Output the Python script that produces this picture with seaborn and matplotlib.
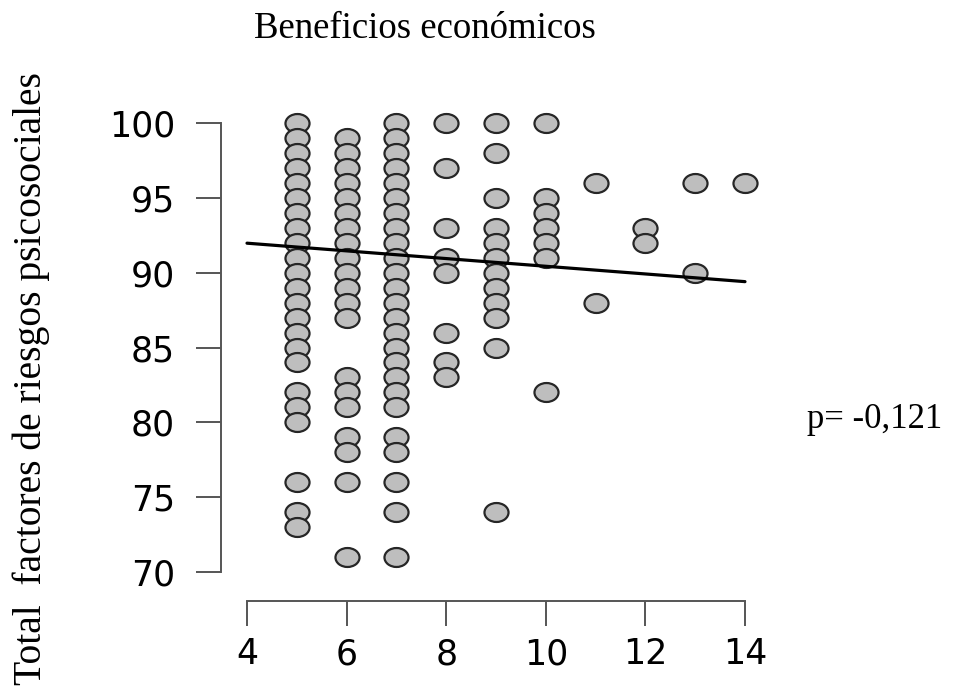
import numpy as np
import pandas as pd
import seaborn as sns
import matplotlib
matplotlib.use("Agg")
import matplotlib.pyplot as plt
from matplotlib.path import Path
from matplotlib.transforms import Affine2D

# ---- data ----
y_at_5 = list(range(100, 83, -1)) + [82, 81, 80, 76, 74, 73]
y_at_6 = list(range(99, 86, -1)) + [83, 82, 81, 79, 78, 76, 71]
y_at_7 = list(range(100, 80, -1)) + [79, 78, 76, 74, 71]
y_at_8 = [100, 97, 93, 91, 90, 86, 84, 83]
y_at_9 = [100, 98, 95, 93, 92, 91, 90, 89, 88, 87, 85, 74]
y_at_10 = [100, 95, 94, 93, 92, 91, 82]
y_at_11 = [96, 88]
y_at_12 = [93, 92]
y_at_13 = [96, 90]
y_at_14 = [96]
x_values = [5, 6, 7, 8, 9, 10, 11, 12, 13, 14]
y_columns = [y_at_5, y_at_6, y_at_7, y_at_8, y_at_9, y_at_10,
             y_at_11, y_at_12, y_at_13, y_at_14]

# fitted line as drawn in the reference
line_x = [4, 14]
line_y = [91.97, 89.4]

x_ticks = [4, 6, 8, 10, 12, 14]
y_ticks = [70, 75, 80, 85, 90, 95, 100]

title = "Beneficios económicos"
ylabel = "Total  factores de riesgos psicosociales"
note = "p= -0,121"

df = pd.DataFrame({
    "beneficios": [x for x, ys in zip(x_values, y_columns) for _ in ys],
    "riesgos": [y for ys in y_columns for y in ys],
})
line_df = pd.DataFrame({"x": line_x, "y": line_y})

sns.set_style("white")
plt.rcParams["font.family"] = ["DejaVu Sans"]
plt.rcParams["text.color"] = "black"

W, H = 956, 687
fig = plt.figure(figsize=(W / 100, H / 100), dpi=100)
ax = fig.add_axes([247 / W, 1 - 572 / H, (745 - 247) / W, (572 - 123) / H])

ellipse = Path.unit_circle().transformed(Affine2D().scale(1.27, 1.0))
sns.scatterplot(data=df, x="beneficios", y="riesgos", ax=ax,
                marker=ellipse, s=300, color="#bebebe",
                edgecolor="#262626", linewidth=1.6, clip_on=False, zorder=2)
sns.lineplot(data=line_df, x="x", y="y", ax=ax, color="black",
             linewidth=2.3, zorder=3, clip_on=False)

ax.set_xlim(4, 14)
ax.set_ylim(70, 100)
ax.set_xticks(x_ticks)
ax.set_yticks(y_ticks)
ax.set_xlabel("")
ax.set_ylabel("")

for side in ["top", "right"]:
    ax.spines[side].set_visible(False)
spine_col = "#555555"
ax.spines["left"].set_position(("outward", 18.7))
ax.spines["bottom"].set_position(("outward", 21))
ax.spines["left"].set_bounds(70, 100)
ax.spines["bottom"].set_bounds(4, 14)
for side in ["left", "bottom"]:
    ax.spines[side].set_color(spine_col)
    ax.spines[side].set_linewidth(1.4)
ax.tick_params(axis="both", which="major", length=18, width=1.4,
               color=spine_col, labelsize=25, labelcolor="black",
               left=True, bottom=True)
ax.tick_params(axis="y", pad=15)
ax.tick_params(axis="x", pad=8)

fig.text(425 / W, 1 - 29 / H, title, ha="center", va="center",
         family="Liberation Serif", fontsize=26.5, color="black")
fig.text(31 / W, 1 - 379 / H, ylabel, ha="center", va="center",
         rotation=90, family="Liberation Serif", fontsize=28.5, color="black")
fig.text(875 / W, 1 - 420 / H, note, ha="center", va="center",
         family="Liberation Serif", fontsize=25, color="black")

fig.savefig("out.png", dpi=100)
